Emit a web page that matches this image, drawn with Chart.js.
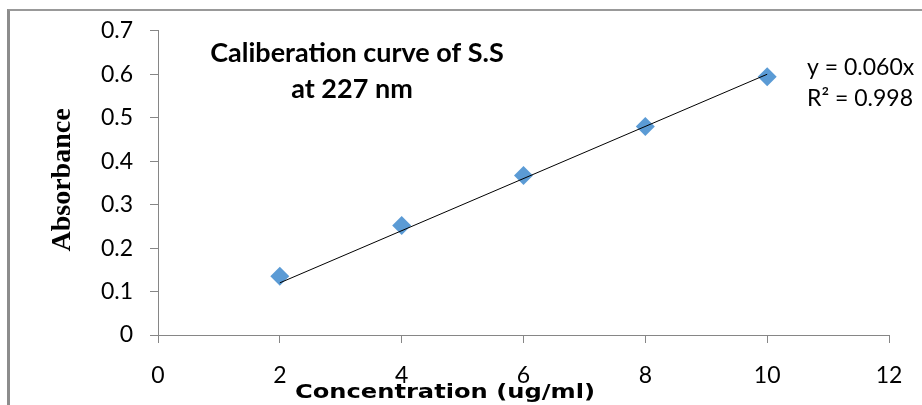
<!DOCTYPE html>
<html lang="en">
<head>
    <meta charset="UTF-8" />
    <title>Calibration curve of S.S</title>
    <style>
        body { margin: 0; background: #fff; }
        .frame { position: absolute; left: 7px; top: 9px; width: 930px; height: 420px; border-left: 3px solid #8c8c8c; border-top: 2px solid #999; }
        .wrap { position: absolute; left: 0; top: 0; width: 922px; height: 405px; }
    </style>
    <script src="https://cdn.jsdelivr.net/npm/chart.js"></script>
</head>
<body>
    <div class="frame"></div>
    <div class="wrap">
        <canvas id="calChart" width="922" height="405"></canvas>
    </div>
    <script>
        // measured points
        const concentration = [2, 4, 6, 8, 10];
        const absorbance = [0.135, 0.252, 0.367, 0.480, 0.594];
        // linear trendline through origin (y = 0.060x), ends at first/last x
        const trendX = [2, 10];
        const trendY = [0.12, 0.60];

        const xTicks = [0, 2, 4, 6, 8, 10, 12];
        const yTicks = [0, 0.1, 0.2, 0.3, 0.4, 0.5, 0.6, 0.7];

        const chartTitle = ['Caliberation curve of S.S', 'at 227 nm'];
        const equation = ['y = 0.060x', 'R\u00b2 = 0.998'];
        const xTitle = 'Concentration (ug/ml)';
        const yTitle = 'Absorbance';

        const axisGrey = '#868686';

        // text annotations drawn on top of the chart
        const labelsPlugin = {
            id: 'labels',
            afterDraw(chart) {
                const ctx = chart.ctx;
                ctx.save();
                ctx.fillStyle = '#000';

                // chart title, two centred lines
                ctx.font = 'bold 27px Lato';
                ctx.textAlign = 'center';
                ctx.textBaseline = 'alphabetic';
                ctx.fillText(chartTitle[0], 357, 62);
                ctx.fillText(chartTitle[1], 352, 98);

                // trendline equation
                ctx.font = '23px Lato';
                ctx.textAlign = 'left';
                ctx.fillText(equation[0], 807, 75);
                ctx.fillText(equation[1], 807, 106);

                // x axis title (wide bold face, stretched a bit)
                ctx.font = 'bold 20px "DejaVu Sans"';
                const w = ctx.measureText(xTitle).width;
                ctx.save();
                ctx.translate(445, 398);
                ctx.scale(300 / w, 1);
                ctx.textAlign = 'center';
                ctx.fillText(xTitle, 0, 0);
                ctx.restore();

                // y axis title, rotated serif bold
                ctx.save();
                ctx.translate(63, 180);
                ctx.rotate(-Math.PI / 2);
                ctx.font = 'bold 28px "Liberation Serif"';
                ctx.textAlign = 'center';
                ctx.textBaseline = 'middle';
                ctx.fillText(yTitle, 0, 0);
                ctx.restore();

                ctx.restore();
            }
        };

        new Chart(document.getElementById('calChart').getContext('2d'), {
            type: 'scatter',
            data: {
                datasets: [
                    {
                        label: 'Trendline',
                        type: 'line',
                        data: trendX.map((x, i) => ({ x: x, y: trendY[i] })),
                        borderColor: '#000',
                        borderWidth: 1,
                        pointRadius: 0,
                        fill: false,
                        order: 0
                    },
                    {
                        label: 'Absorbance',
                        data: concentration.map((x, i) => ({ x: x, y: absorbance[i] })),
                        pointStyle: 'rectRot',
                        pointRadius: 9.5,
                        backgroundColor: '#5b9bd5',
                        borderColor: '#5b9bd5',
                        borderWidth: 0,
                        order: 1
                    }
                ]
            },
            options: {
                responsive: false,
                animation: false,
                layout: { padding: { left: 0, top: 24, right: 33, bottom: 0 } },
                plugins: { legend: { display: false }, tooltip: { enabled: false } },
                scales: {
                    x: {
                        type: 'linear',
                        min: 0,
                        max: 12,
                        afterBuildTicks: s => { s.ticks = xTicks.map(v => ({ value: v })); },
                        afterFit: s => { s.height = 70; },
                        grid: { drawOnChartArea: false, drawTicks: true, tickLength: 8, color: axisGrey },
                        border: { color: axisGrey, width: 1 },
                        ticks: { color: '#000', font: { family: 'Lato', size: 23 }, padding: 19, maxRotation: 0 }
                    },
                    y: {
                        min: 0,
                        max: 0.7,
                        afterBuildTicks: s => { s.ticks = yTicks.map(v => ({ value: v })); },
                        afterFit: s => { s.width = 158; },
                        grid: { drawOnChartArea: false, drawTicks: true, tickLength: 8, color: axisGrey },
                        border: { color: axisGrey, width: 1 },
                        ticks: { color: '#000', font: { family: 'Lato', size: 23 }, padding: 17, callback: v => String(Math.round(v * 10) / 10) }
                    }
                }
            },
            plugins: [labelsPlugin]
        });
    </script>
</body>
</html>
